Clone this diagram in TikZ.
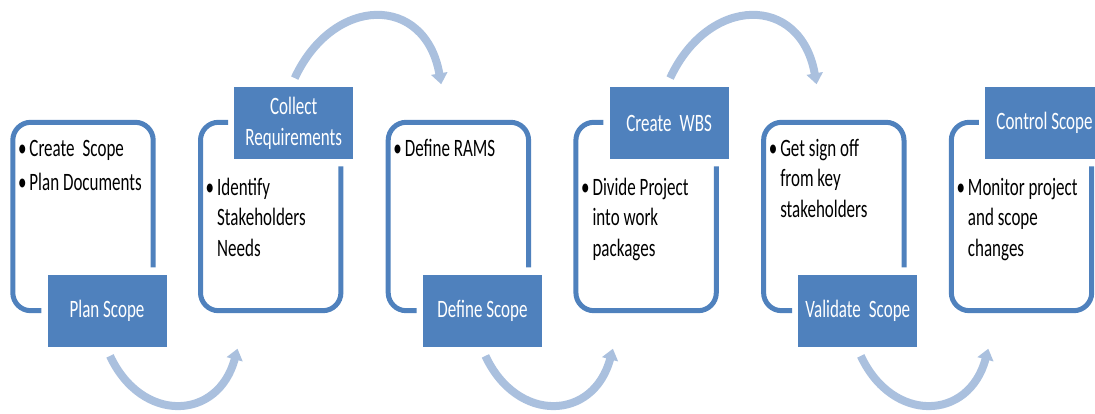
\documentclass[tikz,border=0pt]{standalone}
\usepackage{fontspec}
\setmainfont{Carlito}[FakeStretch=0.68]
\usetikzlibrary{arrows.meta, calc, positioning}
\definecolor{sa_blue}{RGB}{79,129,189}
\definecolor{sa_light}{RGB}{170,192,222}
\newcommand{\stagefont}{\fontsize{25}{30.5}\selectfont}
\tikzset{
    stagebox/.style={
        minimum width=140pt, minimum height=188pt, inner sep=0pt
    },
    stagelabel/.style={
        fill=sa_blue, text=white, font=\stagefont,
        minimum width=119pt, minimum height=72pt, inner sep=0pt, align=center
    },
    stageborder/.style={draw=sa_blue, line width=5pt, rounded corners=18pt},
    stagetext/.style={anchor=base west, inner sep=0pt, font=\stagefont},
    flowarrow/.style={
        draw=sa_light, line width=8pt,
        -{Triangle[length=11pt, width=16pt]}
    },
}
% bullet list set as a two column tabular, baseline on the first row
\newcommand{\bulletlist}[1]{%
    \begin{tabular}[t]{@{}c@{\hspace{3pt}}l@{}}#1\end{tabular}%
}

\begin{document}
\begin{tikzpicture}[x=1pt, y=1pt]
    \useasboundingbox (0,0) rectangle (1095,414);

    % the six stage frames
    \node[stagebox] (frm1) at (83,197.5) {};
    \node[stagebox, right=47.3pt of frm1] (frm2) {};
    \node[stagebox, right=47.3pt of frm2] (frm3) {};
    \node[stagebox, right=47.3pt of frm3] (frm4) {};
    \node[stagebox, right=47.3pt of frm4] (frm5) {};
    \node[stagebox, right=47.3pt of frm5] (frm6) {};

    % labels sit on the bottom edge (odd) or on the top edge (even)
    \node[stagelabel] (lab1) at ($(frm1.south)+(24,0)$) {Plan Scope};
    \node[stagelabel] (lab2) at ($(frm2.north)+(23,-1)$) {Collect\\Requirements};
    \node[stagelabel] (lab3) at ($(frm3.south)+(24,0)$) {Define Scope};
    \node[stagelabel] (lab4) at ($(frm4.north)+(23,-1)$) {Create \,WBS};
    \node[stagelabel] (lab5) at ($(frm5.south)+(24,0)$) {Validate \,Scope};
    \node[stagelabel] (lab6) at ($(frm6.north)+(23,-1)$) {Control Scope};

    \foreach \i in {1,3,5} {
        \draw[stageborder]
            ($(frm\i.east |- lab\i.north)+(0,7)$) -- (frm\i.north east)
            -- (frm\i.north west) -- (frm\i.south west)
            -- ($(lab\i.west |- frm\i.south)+(-6,0)$);
    }
    \foreach \i in {2,4,6} {
        \draw[stageborder]
            ($(frm\i.east |- lab\i.south)+(0,-7)$) -- (frm\i.south east)
            -- (frm\i.south west) -- (frm\i.north west)
            -- ($(lab\i.west |- frm\i.north)+(-6,0)$);
    }

    % bullet texts
    \node[stagetext] (txt1) at ($(frm1.north west)+(5,-34)$) {%
        \bulletlist{\textbullet & Create \,Scope\\[4pt] \textbullet & Plan Documents}};
    \node[stagetext] (txt2) at ($(frm2.north west)+(5,-73)$) {%
        \bulletlist{\textbullet & Identify\\ & Stakeholders\\ & Needs}};
    \node[stagetext] (txt3) at ($(frm3.north west)+(5,-34)$) {%
        \bulletlist{\textbullet & Define RAMS}};
    \node[stagetext] (txt4) at ($(frm4.north west)+(5,-73)$) {%
        \bulletlist{\textbullet & Divide Project\\ & into work\\ & packages}};
    \node[stagetext] (txt5) at ($(frm5.north west)+(5,-34)$) {%
        \bulletlist{\textbullet & Get sign off\\ & from key\\ & stakeholders}};
    \node[stagetext] (txt6) at ($(frm6.north west)+(5,-73)$) {%
        \bulletlist{\textbullet & Monitor project\\ & and scope\\ & changes}};

    % flow between stages
    \draw[flowarrow] ($(lab1.south)+(3,-9)$)
        to[out=-65, in=-105, looseness=1.5] ($(frm2.south west)+(37,-38)$);
    \draw[flowarrow] ($(lab2.north)+(1,9)$)
        to[out=65, in=100, looseness=1.6] ($(frm3.north west)+(53,38)$);
    \draw[flowarrow] ($(lab3.south)+(3,-9)$)
        to[out=-65, in=-105, looseness=1.5] ($(frm4.south west)+(37,-38)$);
    \draw[flowarrow] ($(lab4.north)+(1,9)$)
        to[out=65, in=100, looseness=1.6] ($(frm5.north west)+(53,38)$);
    \draw[flowarrow] ($(lab5.south)+(3,-9)$)
        to[out=-65, in=-105, looseness=1.5] ($(frm6.south west)+(37,-38)$);
\end{tikzpicture}
\end{document}
